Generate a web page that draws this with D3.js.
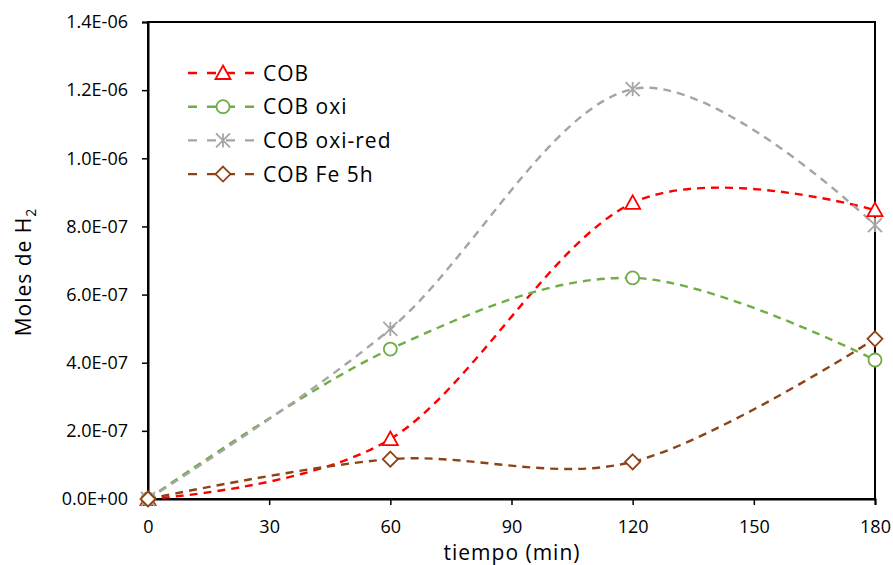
<!DOCTYPE html>
<html>
<head>
<meta charset="utf-8">
<script src="https://cdn.jsdelivr.net/npm/d3@7"></script>
<style>
  html, body { margin: 0; padding: 0; background: #fff; }
  svg { display: block; font-family: "Open Sans", "Noto Sans", sans-serif; }
</style>
</head>
<body>
<svg id="chart" width="893" height="565"></svg>
<script>
// Sampling times (min)
const times = [0, 60, 120, 180];
// Moles of H2 per material
const cob       = [0, 1.76e-7, 8.69e-7, 8.48e-7];
const cobOxi    = [0, 4.40e-7, 6.49e-7, 4.08e-7];
const cobOxiRed = [0, 4.99e-7, 1.203e-6, 8.04e-7];
const cobFe5h   = [0, 1.17e-7, 1.09e-7, 4.70e-7];
const seriesNames = ["COB", "COB oxi", "COB oxi-red", "COB Fe 5h"];
const xTicks = [0, 30, 60, 90, 120, 150, 180];
const yTicks = [0, 2e-7, 4e-7, 6e-7, 8e-7, 1.0e-6, 1.2e-6, 1.4e-6];

const series = [
  { name: seriesNames[0], values: cob,       color: "#FF0000", marker: "triangle" },
  { name: seriesNames[1], values: cobOxi,    color: "#70AD47", marker: "circle" },
  { name: seriesNames[2], values: cobOxiRed, color: "#A5A5A5", marker: "star" },
  { name: seriesNames[3], values: cobFe5h,   color: "#8E4315", marker: "diamond" }
];

const svg = d3.select("#chart");
const m = { left: 148, right: 875, top: 22, bottom: 499 };

const x = d3.scaleLinear().domain([0, 180]).range([m.left, m.right]);
const y = d3.scaleLinear().domain([0, 1.4e-6]).range([m.bottom, m.top]);

// Scientific labels such as 2.0E-07
const fmt = v => {
  const [mant, exp] = v.toExponential(1).split("e");
  const sign = exp[0] === "-" ? "-" : "+";
  const e = Math.abs(+exp).toString().padStart(2, "0");
  return mant + "E" + sign + e;
};

// Plot frame
svg.append("rect")
  .attr("x", m.left).attr("y", m.top)
  .attr("width", m.right - m.left).attr("height", m.bottom - m.top)
  .attr("fill", "none").attr("stroke", "#000").attr("stroke-width", 2);

// Axes
const xAxis = svg.append("g").attr("transform", `translate(0,${m.bottom})`)
  .call(d3.axisBottom(x).tickValues(xTicks).tickSize(6));
xAxis.selectAll(".tick text").attr("y", 34).attr("dy", 0);

const yAxis = svg.append("g").attr("transform", `translate(${m.left},0)`)
  .call(d3.axisLeft(y).tickValues(yTicks).tickFormat(fmt).tickSize(6).tickPadding(14));

[xAxis, yAxis].forEach(g => {
  g.select(".domain").attr("stroke", "#000").attr("stroke-width", 2);
  g.selectAll(".tick line").attr("stroke", "#000").attr("stroke-width", 1.5);
  g.selectAll(".tick text").attr("fill", "#000")
    .style("font-size", "18px").style("font-family", "'Open Sans', sans-serif");
});

// Axis titles
svg.append("text")
  .attr("x", 512).attr("y", 560)
  .attr("text-anchor", "middle")
  .style("font-size", "21px").style("letter-spacing", "1px")
  .text("tiempo (min)");

const yt = svg.append("text")
  .attr("transform", "translate(31,272) rotate(-90)")
  .attr("text-anchor", "middle")
  .style("font-size", "21px").style("letter-spacing", "1px");
yt.append("tspan").text("Moles de H");
yt.append("tspan").attr("dy", 5).style("font-size", "14px").text("2");

// Point markers
function drawMarker(g, type, color, cx, cy) {
  if (type === "triangle") {
    const s = 7.5;
    g.append("path")
      .attr("d", `M${cx},${cy - s}L${cx + s},${cy + s * 0.8}L${cx - s},${cy + s * 0.8}Z`)
      .attr("fill", "#fff").attr("stroke", color).attr("stroke-width", 1.8);
  } else if (type === "circle") {
    g.append("circle").attr("cx", cx).attr("cy", cy).attr("r", 6.5)
      .attr("fill", "#fff").attr("stroke", color).attr("stroke-width", 1.8);
  } else if (type === "diamond") {
    const s = 7.5;
    g.append("path")
      .attr("d", `M${cx},${cy - s}L${cx + s},${cy}L${cx},${cy + s}L${cx - s},${cy}Z`)
      .attr("fill", "#fff").attr("stroke", color).attr("stroke-width", 1.8);
  } else if (type === "star") {
    const s = 7;
    g.append("path")
      .attr("d", `M${cx - s},${cy - s}L${cx + s},${cy + s}M${cx - s},${cy + s}L${cx + s},${cy - s}M${cx},${cy - s}L${cx},${cy + s}`)
      .attr("fill", "none").attr("stroke", color).attr("stroke-width", 1.8);
  }
}

// Smoothed dashed series lines
const line = d3.line()
  .x(d => x(d[0])).y(d => y(d[1]))
  .curve(d3.curveCardinal.tension(0));

const plot = svg.append("g");
series.forEach(s => {
  const pts = times.map((t, i) => [t, s.values[i]]);
  plot.append("path").datum(pts)
    .attr("d", line)
    .attr("fill", "none").attr("stroke", s.color)
    .attr("stroke-width", 2.4).attr("stroke-dasharray", "8,6");
});
series.forEach(s => {
  const g = plot.append("g");
  times.forEach((t, i) => drawMarker(g, s.marker, s.color, x(t), y(s.values[i])));
});

// Legend
const legend = svg.append("g");
series.forEach((s, i) => {
  const ly = 73 + i * 33.7;
  legend.append("line")
    .attr("x1", 188).attr("x2", 254).attr("y1", ly).attr("y2", ly)
    .attr("stroke", s.color).attr("stroke-width", 2.4).attr("stroke-dasharray", "9,10");
  drawMarker(legend, s.marker, s.color, 223, ly);
  legend.append("text").attr("x", 263).attr("y", ly + 7.5)
    .style("font-size", "21px").style("letter-spacing", "1px").text(s.name);
});
</script>
</body>
</html>
